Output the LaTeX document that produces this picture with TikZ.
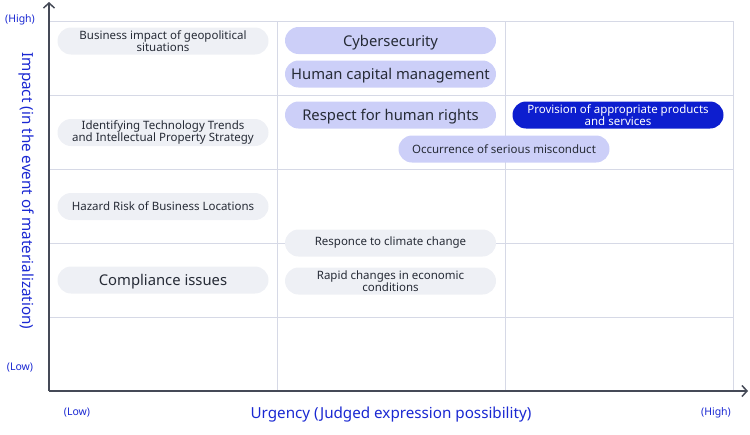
\documentclass[tikz,border=0pt]{standalone}
\usepackage{fontspec}
\setmainfont{Noto Sans}
\usetikzlibrary{arrows.meta}
\definecolor{gridc}{HTML}{D6D9E6}
\definecolor{axisc}{HTML}{454A57}
\definecolor{labc}{HTML}{1A28D2}
\definecolor{txtc}{HTML}{262B36}
\definecolor{grayp}{HTML}{EEF0F5}
\definecolor{lavp}{HTML}{CCCFF8}
\definecolor{bluep}{HTML}{0D1ECF}
\begin{document}
\begin{tikzpicture}[x=1pt,y=-1pt,
  pill/.style={rounded corners=13.5pt, minimum width=211pt, minimum height=27pt,
    inner sep=0pt, align=center, text=txtc, font=\fontsize{11.5}{12}\selectfont},
  graypill/.style={pill, fill=grayp},
  lavpill/.style={pill, fill=lavp},
  bluepill/.style={pill, fill=bluep, text=white},
  bigtxt/.style={font=\fontsize{14.8}{17}\selectfont, text depth=0pt},
  gridline/.style={draw=gridc, line width=1pt},
  axisline/.style={draw=axisc, line width=1.8pt, -{Straight Barb[length=5pt,width=11pt,line width=1.5pt]}},
  axlab/.style={text=labc, inner sep=0pt},
  smalllab/.style={axlab, font=\fontsize{10.5}{12}\selectfont},
]
\useasboundingbox (0,0) rectangle (750,434);
% grid
\foreach \yy in {21,95,169,243,317} \draw[gridline] (49,\yy) -- (733,\yy);
\foreach \xx in {277,505,733} \draw[gridline] (\xx,21) -- (\xx,391);
% axes
\coordinate (o) at (49,391);
\coordinate (ytop) at (49,2);
\coordinate (xend) at (748,391);
\draw[axisline] (o) -- (ytop);
\draw[axisline] (o) -- (xend);
% axis labels
\node[smalllab] (yhigh) at (20,20) {(High)};
\node[smalllab] (ylow) at (20,368) {(Low)};
\node[smalllab] (xlow) at (77,413) {(Low)};
\node[smalllab] (xhigh) at (716,413) {(High)};
\node[axlab, font=\fontsize{15.2}{18}\selectfont] (xtitle) at (391,415) {Urgency (Judged expression possibility)};
\node[axlab, font=\fontsize{15.2}{18}\selectfont, rotate=-90] (ytitle) at (26,191) {Impact (in the event of materialization)};
% pills
\node[graypill] (geo) at (163,41) {Business impact of geopolitical\\situations};
\node[graypill] (ident) at (163,132.5) {Identifying Technology Trends\\and Intellectual Property Strategy};
\node[graypill] (hazard) at (163,206.5) {Hazard Risk of Business Locations};
\node[graypill, bigtxt] (compl) at (163,280) {Compliance issues};
\node[lavpill, bigtxt] (cyber) at (390.5,40.5) {Cybersecurity};
\node[lavpill, bigtxt] (hcm) at (390.5,74) {Human capital management};
\node[lavpill, bigtxt] (rights) at (390.5,115) {Respect for human rights};
\node[graypill] (climate) at (390.5,243) {Responce to climate change};
\node[graypill] (rapid) at (390.5,281) {Rapid changes in economic\\conditions};
\node[lavpill] (misc) at (504,149) {Occurrence of serious misconduct};
\node[bluepill] (prov) at (618,115) {Provision of appropriate products\\and services};
\end{tikzpicture}
\end{document}
